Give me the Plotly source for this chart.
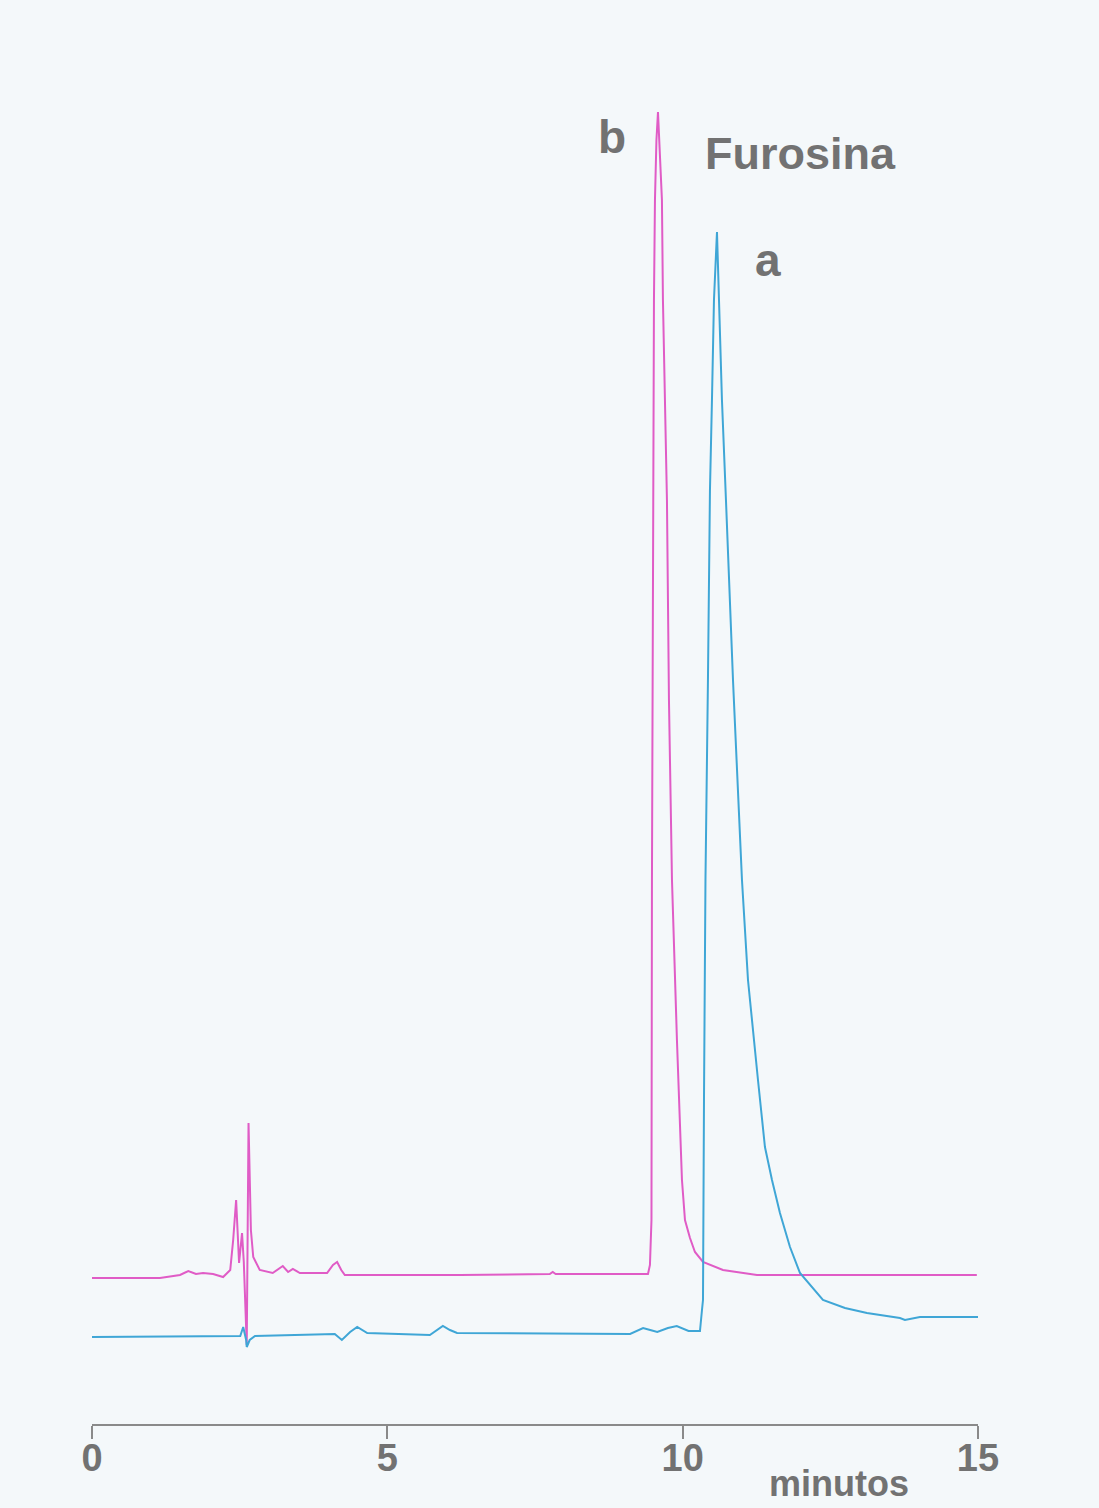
import plotly.graph_objects as go

# Trace b (magenta) — time in minutes, signal in arbitrary units
time_b = [0.00, 1.15, 1.49, 1.63, 1.76, 1.88, 2.05, 2.22, 2.34, 2.39, 2.44, 2.49, 2.54, 2.57,
          2.62, 2.65, 2.69, 2.73, 2.84, 3.06, 3.23, 3.32, 3.40, 3.52, 3.98, 4.08, 4.15, 4.22,
          4.28, 6.23, 7.75, 7.80, 7.85,
          9.413, 9.446, 9.463, 9.472, 9.480, 9.497, 9.514, 9.531, 9.556, 9.582,
          9.616, 9.649, 9.666, 9.700, 9.734, 9.768, 9.819, 9.903, 9.988, 10.039,
          10.124, 10.208, 10.344, 10.682, 11.258, 14.98]
signal_b = [146, 146, 149, 153, 150, 151, 150, 147, 154, 184, 224, 161, 191, 162,
            79, 301, 194, 167, 154, 151, 158, 152, 155, 151, 151, 159, 162, 154,
            149, 149, 150, 152, 150,
            150, 159, 194, 204, 544, 924, 1124, 1224, 1284, 1312,
            1274, 1224, 1124, 1024, 924, 724, 544, 384, 244, 204,
            186, 172, 162, 154, 149, 149]

# Trace a (blue)
time_a = [0.00, 2.51, 2.56, 2.61, 2.62, 2.67, 2.76, 4.11, 4.23, 4.37, 4.49, 4.66, 5.72, 5.84,
          5.94, 6.06, 6.18, 9.11, 9.33, 9.45, 9.57, 9.75, 9.90, 10.10, 10.293, 10.327,
          10.344, 10.361, 10.386, 10.428, 10.462, 10.496, 10.530, 10.581, 10.615, 10.665,
          10.733, 10.852, 11.004, 11.106, 11.275, 11.393, 11.512, 11.647, 11.817, 11.986,
          12.375, 12.748, 13.120, 13.679, 13.763, 14.017, 15.00]
signal_a = [87, 88, 97, 84, 77, 84, 88, 90, 84, 92, 97, 91, 89, 94,
            98, 94, 91, 90, 96, 94, 92, 96, 98, 93, 93, 114,
            124, 324, 544, 744, 934, 1024, 1124, 1192, 1124, 1024,
            924, 744, 544, 444, 344, 277, 244, 211, 177, 151,
            124, 116, 111, 106, 104, 107, 107]

tick_vals = [0, 5, 10, 15]
tick_text = ["0", "5", "10", "15"]

gray = "#727272"

fig = go.Figure()
fig.add_trace(go.Scatter(x=time_b, y=signal_b, mode="lines",
                         line=dict(color="#e05cc6", width=2), name="b"))
fig.add_trace(go.Scatter(x=time_a, y=signal_a, mode="lines",
                         line=dict(color="#3fa6d6", width=2), name="a"))

fig.update_layout(
    width=1099, height=1508,
    margin=dict(l=92, r=121, t=50, b=84),
    paper_bgcolor="#f4f8fa", plot_bgcolor="#f4f8fa",
    showlegend=False,
    font=dict(family="Liberation Sans, Arial, sans-serif", color=gray),
    xaxis=dict(range=[0, 15], tickvals=tick_vals, ticktext=tick_text,
               showgrid=False, zeroline=False, showline=True,
               linecolor="#8a8a8a", linewidth=2,
               ticks="outside", ticklen=13, tickwidth=2, tickcolor="#8a8a8a",
               tickfont=dict(size=38, color=gray, weight="bold"),
               ticklabelstandoff=-14),
    yaxis=dict(range=[0, 1374], visible=False),
    annotations=[
        dict(x=8.80, y=1287, text="b", showarrow=False,
             font=dict(size=46, color=gray, weight="bold")),
        dict(x=11.99, y=1271, text="Furosina", showarrow=False,
             font=dict(size=45, color=gray, weight="bold")),
        dict(x=11.44, y=1164, text="a", showarrow=False,
             font=dict(size=46, color=gray, weight="bold")),
        dict(x=12.646, xref="x", y=-0.043, yref="paper", text="minutos",
             showarrow=False, yanchor="middle",
             font=dict(size=36, color=gray, weight="bold")),
    ],
)

fig.write_html("out.html")
